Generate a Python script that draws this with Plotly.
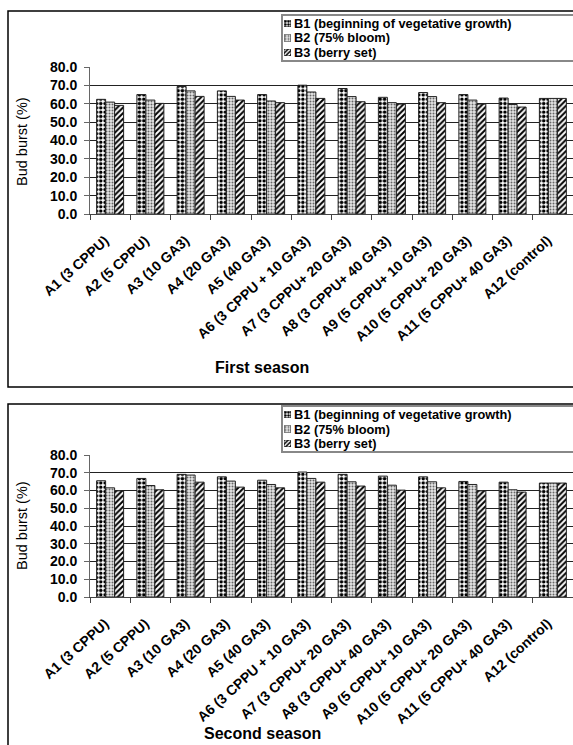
import plotly.graph_objects as go

categories = [
    "A1 (3 CPPU)", "A2 (5 CPPU)", "A3 (10 GA3)", "A4 (20 GA3)", "A5 (40 GA3)",
    "A6 (3 CPPU + 10 GA3)", "A7 (3 CPPU+ 20 GA3)", "A8 (3 CPPU+ 40 GA3)",
    "A9 (5 CPPU+ 10 GA3)", "A10 (5 CPPU+ 20 GA3)", "A11 (5 CPPU+ 40 GA3)",
    "A12 (control)",
]
series_names = [
    "B1 (beginning of vegetative growth)",
    "B2 (75% bloom)",
    "B3 (berry set)",
]

# First season, bud burst (%)
s1_b1 = [62.4, 65.0, 69.4, 67.0, 65.0, 70.1, 68.3, 63.5, 66.1, 65.0, 63.1, 62.9]
s1_b2 = [60.9, 62.0, 67.0, 64.0, 61.5, 66.4, 63.9, 60.6, 63.9, 62.0, 59.6, 62.9]
s1_b3 = [59.1, 60.2, 64.0, 62.0, 60.6, 62.9, 61.1, 59.8, 60.6, 59.8, 58.2, 62.9]

# Second season, bud burst (%)
s2_b1 = [65.5, 66.8, 69.1, 67.7, 65.8, 70.4, 69.1, 68.1, 67.7, 65.1, 64.7, 64.2]
s2_b2 = [61.5, 62.8, 68.7, 65.3, 63.4, 66.8, 64.9, 63.0, 64.9, 63.4, 60.4, 64.2]
s2_b3 = [59.8, 60.4, 64.7, 61.9, 61.5, 64.7, 62.5, 60.2, 61.5, 59.8, 59.1, 64.2]

y_ticks = [0, 10, 20, 30, 40, 50, 60, 70, 80]
titles = ["First season", "Second season"]
y_title = "Bud burst (%)"

FONT = "Arial, Liberation Sans, sans-serif"
W, H = 573, 745


def px_x(p):
    return p / W


def px_y(p):
    return 1 - p / H


patterns = [
    dict(shape=".", fgcolor="black", bgcolor="white", size=4.3, solidity=0.52, fillmode="replace"),
    dict(shape=".", fgcolor="#666666", bgcolor="#e6e6e6", size=3, solidity=0.35, fillmode="replace"),
    dict(shape="/", fgcolor="black", bgcolor="white", size=4, solidity=0.5, fillmode="replace"),
]

fig = go.Figure()

# Per-season layout in pixels
panels = [
    dict(values=[s1_b1, s1_b2, s1_b3], top=67, bottom=214, legend_top=15,
         frame=(11, 387), title_y=367, ytitle_y=142),
    dict(values=[s2_b1, s2_b2, s2_b3], top=455, bottom=597, legend_top=406,
         frame=(404, 800), title_y=733, ytitle_y=526),
]

axis_x = dict(
    type="category", showgrid=False, showline=True, linecolor="#444444", linewidth=1,
    ticks="outside", ticklen=5, tickcolor="#444444", tickson="boundaries",
    tickangle=-42, ticklabelshift=-5, ticklabelstandoff=12,
    tickfont=dict(family=FONT, size=14, color="black", weight="bold"),
    domain=[px_x(90), 1.0], fixedrange=True, automargin=False,
)
axis_y = dict(
    range=[0, 80], tickvals=y_ticks, tickformat=".1f",
    showgrid=True, gridcolor="#222222", gridwidth=1,
    showline=True, linecolor="#666666", linewidth=1,
    ticks="outside", ticklen=5, tickcolor="#666666", ticklabelstandoff=4,
    tickfont=dict(family=FONT, size=14, color="black", weight="bold"),
    zeroline=False, fixedrange=True, automargin=False,
)
hidden = dict(visible=False, fixedrange=True, showgrid=False, zeroline=False,
              automargin=False)

layout_axes = {}
row_gap = 14.5
icon_left, icon_right = 284, 291
axis_num = 1


def axis_ids(n):
    if n == 1:
        return "x", "y", "xaxis", "yaxis"
    return f"x{n}", f"y{n}", f"xaxis{n}", f"yaxis{n}"


for k, p in enumerate(panels):
    xa, ya, xkey, ykey = axis_ids(axis_num)
    axis_num += 1
    layout_axes[xkey] = dict(axis_x, anchor=ya)
    layout_axes[ykey] = dict(axis_y, anchor=xa,
                             domain=[px_y(p["bottom"]), px_y(p["top"])])

    for name, vals, pat in zip(series_names, p["values"], patterns):
        fig.add_trace(go.Bar(
            x=categories, y=vals, name=name, xaxis=xa, yaxis=ya,
            showlegend=False, hoverinfo="x+y",
            marker=dict(color="white", pattern=pat,
                        line=dict(color="#222222", width=1)),
        ))

    # Legend box: each swatch is a one-bar chart on its own tiny axes
    fig.add_shape(type="rect", xref="paper", yref="paper",
                  x0=px_x(282), x1=1.05,
                  y0=px_y(p["legend_top"] + 46), y1=px_y(p["legend_top"]),
                  line=dict(color="#888888", width=2), fillcolor="white", layer="below")
    row0 = p["legend_top"] + 8.5
    for i, (name, pat) in enumerate(zip(series_names, patterns)):
        cy = row0 + i * row_gap
        sx, sy, sxkey, sykey = axis_ids(axis_num)
        axis_num += 1
        layout_axes[sxkey] = dict(hidden, range=[-0.5, 0.5], anchor=sy,
                                  domain=[px_x(icon_left), px_x(icon_right)])
        layout_axes[sykey] = dict(hidden, range=[0, 1], anchor=sx,
                                  domain=[px_y(cy + 3.5), px_y(cy - 3.5)])
        fig.add_trace(go.Bar(
            x=[0], y=[1], width=[1], xaxis=sx, yaxis=sy,
            showlegend=False, hoverinfo="skip",
            marker=dict(color="white", pattern=dict(pat, size=3),
                        line=dict(color="#222222", width=1)),
        ))
        fig.add_annotation(text=name, xref="paper", yref="paper",
                           x=px_x(292), y=px_y(cy),
                           xanchor="left", yanchor="middle", showarrow=False,
                           font=dict(family=FONT, size=12.8, color="black", weight="bold"))

    # Frame around the panel
    fig.add_shape(type="rect", xref="paper", yref="paper",
                  x0=px_x(8), x1=1.05, y0=px_y(p["frame"][1]), y1=px_y(p["frame"][0]),
                  line=dict(color="black", width=1.5), layer="below")

    fig.add_annotation(text=titles[k], xref="paper", yref="paper",
                       x=px_x(262), y=px_y(p["title_y"]), xanchor="center",
                       yanchor="middle", showarrow=False,
                       font=dict(family=FONT, size=16, color="black", weight="bold"))
    fig.add_annotation(text=y_title, xref="paper", yref="paper",
                       x=px_x(22), y=px_y(p["ytitle_y"]), xanchor="center",
                       yanchor="middle", textangle=-90, showarrow=False,
                       font=dict(family=FONT, size=14.5, color="black"))

fig.update_layout(
    width=W, height=H,
    margin=dict(l=0, r=0, t=0, b=0, autoexpand=False),
    paper_bgcolor="white", plot_bgcolor="white",
    barmode="group", bargap=0.33, bargroupgap=0.0,
    showlegend=False,
    **layout_axes,
)

fig.write_html("out.html")
